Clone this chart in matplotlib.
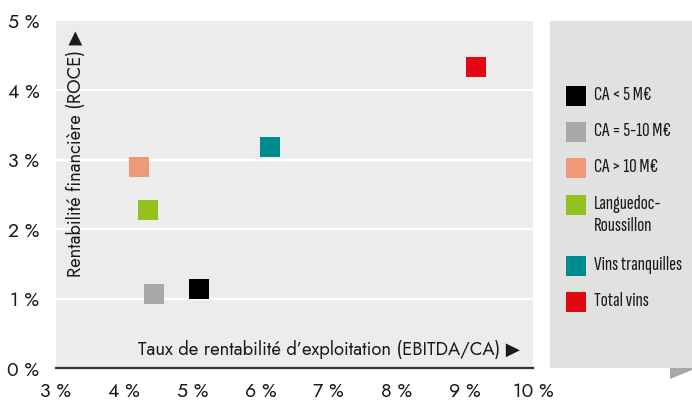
import matplotlib
matplotlib.use("Agg")
import matplotlib.pyplot as plt
from matplotlib.patches import Rectangle, Polygon

# Segments: EBITDA/CA (%) vs ROCE (%)
labels = ["CA < 5 M€", "CA = 5-10 M€", "CA > 10 M€",
          "Languedoc-\nRoussillon", "Vins tranquilles", "Total vins"]
ebitda = [5.10, 4.44, 4.22, 4.35, 6.14, 9.17]
roce = [1.14, 1.06, 2.89, 2.27, 3.19, 4.34]
colors = ["#000000", "#a8a8a6", "#f0997a", "#95c11f", "#008b8f", "#e30613"]

xticks = [3, 4, 5, 6, 7, 8, 9, 10]
yticks = [0, 1, 2, 3, 4, 5]

plt.rcParams["font.family"] = ["Jost", "DejaVu Sans"]
LEG_FONT = ["Sofia Sans Extra Condensed", "DejaVu Sans"]

W, H = 692, 401
fig = plt.figure(figsize=(W / 100, H / 100), dpi=100)
ax = fig.add_axes([56 / W, 1 - 368 / H, (533 - 56) / W, (368 - 21) / H])
ax.set_facecolor("#ececec")

for x, y, c in zip(ebitda, roce, colors):
    ax.scatter(x, y, s=205, marker="s", color=c, linewidths=0, zorder=3)

ax.set_xlim(3, 10)
ax.set_ylim(0, 5)
ax.set_xticks(xticks)
ax.set_xticklabels(["%d %%" % t for t in xticks])
ax.set_yticks(yticks)
ax.set_yticklabels(["%d %%" % t for t in yticks])
ax.tick_params(length=0, labelsize=14, colors="#1a1a1a")
ax.tick_params(axis="y", pad=12)
ax.tick_params(axis="x", pad=10)

for t in yticks[1:-1]:
    ax.axhline(t, color="white", lw=1.6, zorder=1)
for s in ["top", "right", "left"]:
    ax.spines[s].set_visible(False)
ax.spines["bottom"].set_color("#333333")
ax.spines["bottom"].set_linewidth(1.6)

ax.text(0.973, 0.052, "Taux de rentabilité d’exploitation (EBITDA/CA) ▶",
        transform=ax.transAxes, ha="right", va="center", fontsize=13.3,
        color="#1a1a1a")
ax.text(0.04, 0.262, "Rentabilité financière (ROCE) ▶",
        transform=ax.transAxes, ha="center", va="bottom", rotation=90,
        fontsize=13.2, color="#1a1a1a")

# legend panel on the right
fig.add_artist(Rectangle((550 / W, 1 - 368 / H), (W - 550) / W, (368 - 21) / H,
                         transform=fig.transFigure, color="#e1e1e1", lw=0))
fig.add_artist(Polygon([(670 / W, 1 - 368 / H), (W / W, 1 - 368 / H),
                        (W / W, 1 - 370 / H), (670 / W, 1 - 379 / H)],
                       closed=True, transform=fig.transFigure,
                       color="#a8a8a8", lw=0))

leg_y = [96, 132, 168, 205, 266, 302]
for lab, c, yy in zip(labels, colors, leg_y):
    fig.add_artist(Rectangle((566 / W, 1 - (yy + 10) / H), 20 / W, 20 / H,
                             transform=fig.transFigure, color=c, lw=0))
    fig.text(594 / W, 1 - (yy - 10) / H, lab, ha="left", va="top",
             fontsize=15, family=LEG_FONT,
             color="#1a1a1a", linespacing=1.3)

fig.savefig("out.png", dpi=100)
